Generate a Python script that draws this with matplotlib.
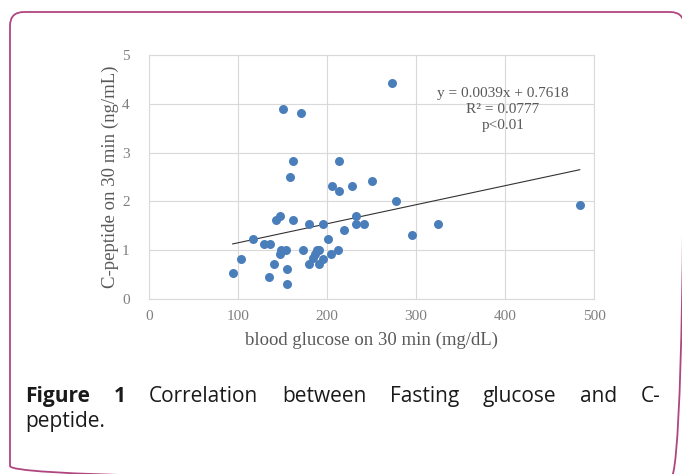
import matplotlib
matplotlib.use("Agg")
import matplotlib.pyplot as plt
from matplotlib.patches import FancyBboxPatch
import numpy as np

# blood glucose at 30 min (mg/dL) and C-peptide at 30 min (ng/mL)
glucose = [94, 103, 117, 129, 136, 135, 141, 147, 148, 154,
           143, 147, 150, 171, 158, 162, 162, 155, 155, 173,
           180, 180, 186, 184, 189, 191, 191, 196, 196, 201,
           204, 206, 213, 213, 212, 219, 228, 233, 233, 242,
           250, 273, 278, 296, 325, 484]
cpeptide = [0.53, 0.82, 1.23, 1.12, 1.12, 0.46, 0.72, 0.92, 1.01, 1.01,
            1.62, 1.71, 3.90, 3.81, 2.51, 2.82, 1.62, 0.62, 0.31, 1.01,
            1.53, 0.72, 0.92, 0.85, 1.01, 1.01, 0.72, 0.82, 1.53, 1.23,
            0.92, 2.32, 2.82, 2.22, 1.01, 1.42, 2.32, 1.71, 1.53, 1.53,
            2.41, 4.42, 2.00, 1.32, 1.53, 1.93]
slope = 0.0039
intercept = 0.7618
fit_text = "y = 0.0039x + 0.7618\nR\u00b2 = 0.0777\np<0.01"
caption_words = ["Correlation", "between", "Fasting", "glucose", "and", "C-"]

W, H = 682, 474
fig = plt.figure(figsize=(W / 100, H / 100), dpi=100)

# background axes in pixel units for the frame and caption
bg = fig.add_axes([0, 0, 1, 1], zorder=0)
bg.set_xlim(0, W)
bg.set_ylim(H, 0)
bg.axis("off")
bg.add_patch(FancyBboxPatch((10, 12), 674, 468, boxstyle="round,pad=0,rounding_size=14",
                            fc="none", ec="#b0457f", lw=1.3))

serif = "Liberation Serif"
ax = fig.add_axes([149 / W, 1 - 299 / H, 445 / W, 244 / H], zorder=1)
ax.scatter(glucose, cpeptide, s=42, color="#4a7ebb", zorder=3, linewidths=0)
xs = np.array([min(glucose), max(glucose)])
ax.plot(xs, slope * xs + intercept, color="#333333", lw=0.8, zorder=2)

ax.set_xlim(0, 500)
ax.set_ylim(0, 5)
ax.set_xticks(range(0, 501, 100))
ax.set_yticks(range(0, 6))
ax.grid(True, color="#d9d9d9", lw=0.8)
ax.set_axisbelow(True)
for s in ax.spines.values():
    s.set_color("#d9d9d9")
    s.set_linewidth(0.8)
ax.tick_params(length=0, labelsize=11, labelcolor="#7f7f7f")
ax.tick_params(axis="y", pad=14)
ax.tick_params(axis="x", pad=8)
for lab in ax.get_xticklabels() + ax.get_yticklabels():
    lab.set_fontfamily(serif)
ax.set_xlabel("blood glucose on 30 min (mg/dL)", family=serif, fontsize=13.5, color="#595959")
ax.set_ylabel("C-peptide on 30 min (ng/mL)", family=serif, fontsize=13.5, color="#595959")
ax.xaxis.set_label_coords(0.5, -0.135)
ax.yaxis.set_label_coords(-0.068, 0.5)
ax.text(0.795, 0.87, fit_text, transform=ax.transAxes, family=serif, fontsize=11,
        color="#595959", ha="center", va="top", linespacing=1.3)

# caption, first line justified between left and right margins
cap_font = dict(family="Open Sans", fontsize=15, color="#1a1a1a", va="baseline")
left, right, base1, base2 = 25, 661, 402, 427
words = [bg.text(0, base1, "Figure", fontweight="bold", **cap_font),
         bg.text(0, base1, "1", fontweight="bold", **cap_font)]
words += [bg.text(0, base1, w, **cap_font) for w in caption_words]
fig.canvas.draw()
r = fig.canvas.get_renderer()
widths = [w.get_window_extent(r).width for w in words]
gap = (right - left - sum(widths)) / (len(words) - 1)
x = left
for w, wd in zip(words, widths):
    w.set_x(x)
    x += wd + gap
bg.text(left, base2, "peptide.", **cap_font)

fig.savefig("out.png", dpi=100)
